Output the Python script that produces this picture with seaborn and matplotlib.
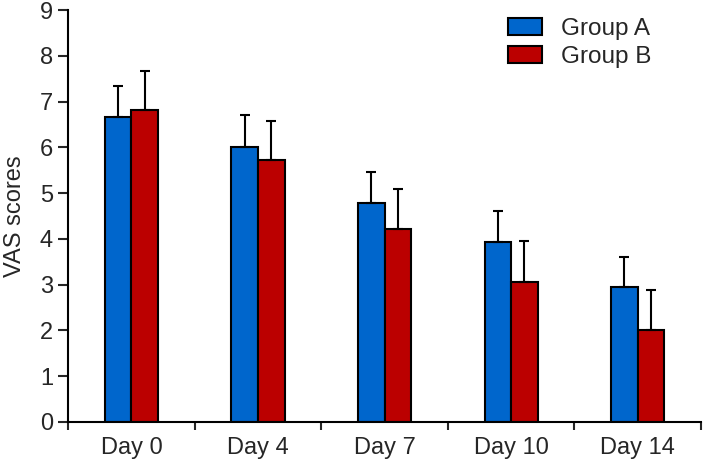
import matplotlib
matplotlib.use('Agg')
import matplotlib.pyplot as plt
import pandas as pd
import seaborn as sns
import numpy as np

# values
days = ['Day 0', 'Day 4', 'Day 7', 'Day 10', 'Day 14']
group_a = [6.66, 6.00, 4.78, 3.93, 2.95]
group_b = [6.81, 5.72, 4.22, 3.05, 2.00]
sd_a = [0.68, 0.70, 0.69, 0.69, 0.65]
sd_b = [0.85, 0.86, 0.86, 0.91, 0.88]

df = pd.DataFrame({
    'day': days * 2,
    'score': group_a + group_b,
    'sd': sd_a + sd_b,
    'group': ['Group A'] * 5 + ['Group B'] * 5,
})

sns.set_style('white')
plt.rcParams['font.family'] = ['Liberation Sans', 'DejaVu Sans']

fig = plt.figure(figsize=(7.03, 4.63), dpi=100)
ax = fig.add_axes([0.097, 0.089, 0.9, 0.889])

palette = {'Group A': '#0066cc', 'Group B': '#bb0000'}
sns.barplot(data=df, x='day', y='score', hue='group', palette=palette,
            order=days, width=0.42, errorbar=None, edgecolor='black',
            linewidth=1.5, saturation=1, ax=ax)

# upper error bars only
for cont, sds in zip(ax.containers, [sd_a, sd_b]):
    xs = [p.get_x() + p.get_width() / 2 for p in cont.patches]
    ys = [p.get_height() for p in cont.patches]
    ax.errorbar(xs, ys, yerr=[np.zeros(len(sds)), sds], fmt='none',
                ecolor='black', elinewidth=1.5, capsize=3.6, capthick=1.5, zorder=1)

ax.set_xlim(-0.5, 4.5)
ax.set_ylim(0, 9)
ax.set_yticks(range(0, 10))
ax.set_xlabel('')
ax.set_ylabel('VAS scores', fontsize=17, labelpad=10)

for s in ['top', 'right']:
    ax.spines[s].set_visible(False)
for s in ['left', 'bottom']:
    ax.spines[s].set_linewidth(1.5)
    ax.spines[s].set_color('black')

ax.tick_params(axis='y', which='major', direction='out', length=7, width=1.5,
               left=True, labelsize=17, pad=4)
ax.tick_params(axis='x', which='major', length=0, labelsize=17, pad=11)
ax.set_xticks(np.arange(-0.5, 5, 1), minor=True)
ax.tick_params(axis='x', which='minor', direction='out', length=6, width=1.5, bottom=True)

ax.legend(loc='upper left', bbox_to_anchor=(0.7226, 0.962),
          bbox_transform=fig.transFigure, frameon=False, borderpad=0,
          borderaxespad=0, fontsize=17.5, handlelength=1.4, handleheight=0.7,
          handletextpad=0.8, labelspacing=0.25)

fig.savefig('out.png', dpi=100)
